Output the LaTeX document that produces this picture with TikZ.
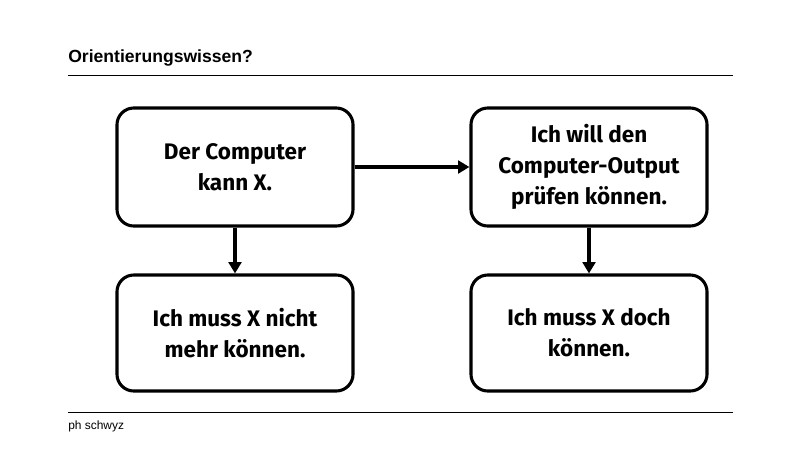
\documentclass[tikz,border=0pt]{standalone}
\usepackage{fontspec}
\setmainfont{Fira Sans}
\newfontfamily\arial{Liberation Sans}
\newfontfamily\arialbf{Liberation Sans Bold}
\usetikzlibrary{positioning,arrows.meta}
\tikzset{
  box/.style={draw,line width=2.2pt,rounded corners=12pt,minimum width=5.9cm,minimum height=2.95cm,
    align=center,font=\bfseries\fontsize{16}{22}\selectfont},
  pfeil/.style={line width=2.2pt,-{Triangle[length=8pt,width=9pt]}}
}
\begin{document}
\begin{tikzpicture}[x=0.025cm,y=-0.025cm]
\useasboundingbox (0,0) rectangle (800,450);
\node[anchor=base west,font=\arialbf\fontsize{12.5}{14}\selectfont,inner sep=0pt] (titel) at (68,62) {Orientierungswissen?};
\draw[line width=0.6pt] (68,75) -- (733,75);
\draw[line width=0.6pt] (68,412) -- (733,412);
\node[anchor=base west,font=\arial\fontsize{8.5}{10}\selectfont,inner sep=0pt] (fuss) at (68,429) {ph schwyz};
% Kaesten
\node[box] (computer) at (235,167) {Der Computer\\kann X.};
\node[box] (pruefen) at (589,167) {Ich will den\\Computer-Output\\prüfen können.};
\node[box,minimum height=2.9cm] (nicht) at (235,333) {Ich muss X nicht\\mehr können.};
\node[box,minimum height=2.9cm] (doch) at (589,333) {Ich muss X doch\\können.};
% Pfeile
\draw[pfeil] (computer) -- (pruefen);
\draw[pfeil] (computer) -- (nicht);
\draw[pfeil] (pruefen) -- (doch);
\end{tikzpicture}
\end{document}
